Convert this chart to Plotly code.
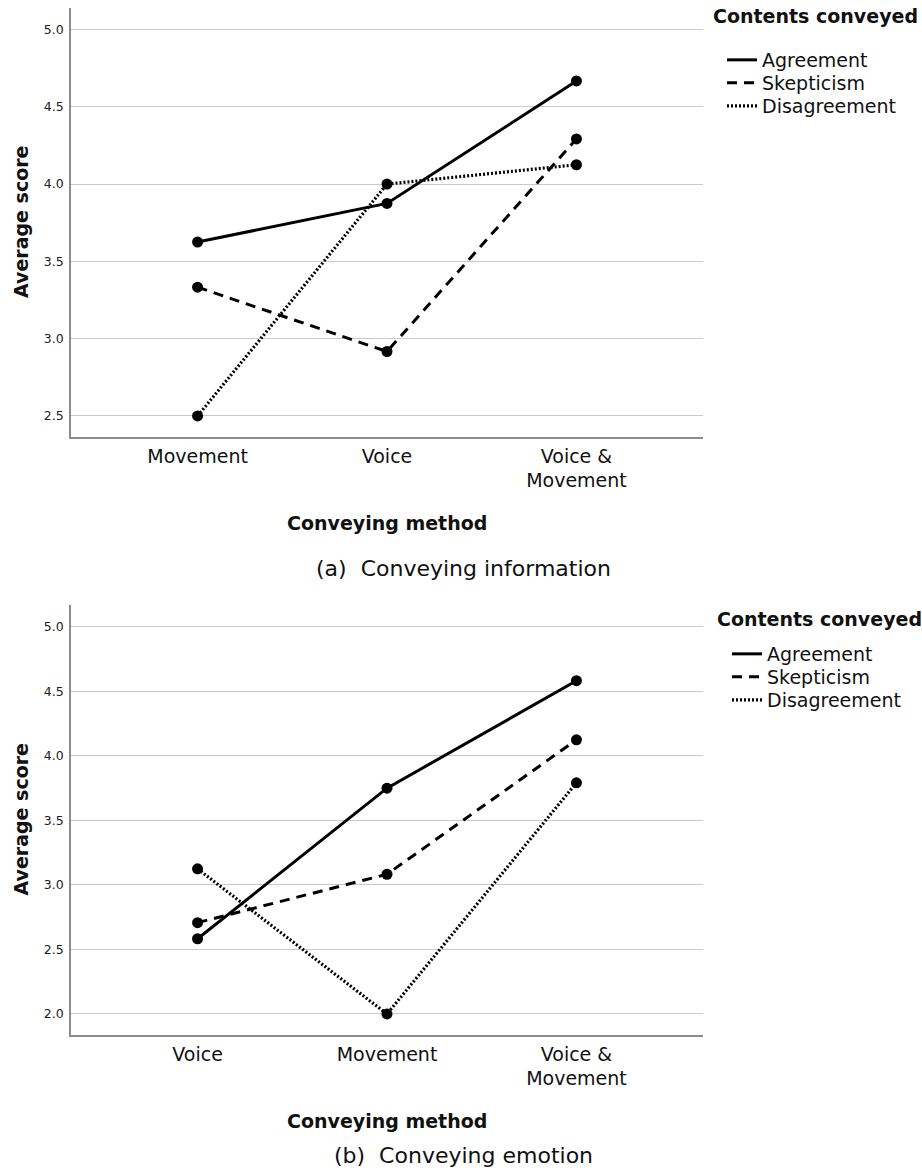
import plotly.graph_objects as go

# ---------------- data ----------------
series_names = ["Agreement", "Skepticism", "Disagreement"]

top_categories = ["Movement", "Voice", "Voice &<br>Movement"]
top_agreement = [3.625, 3.875, 4.667]
top_skepticism = [3.333, 2.917, 4.292]
top_disagreement = [2.5, 4.0, 4.125]

bot_categories = ["Voice", "Movement", "Voice &<br>Movement"]
bot_agreement = [2.583, 3.75, 4.583]
bot_skepticism = [2.708, 3.083, 4.125]
bot_disagreement = [3.125, 2.0, 3.792]

y_ticks_top = [2.5, 3.0, 3.5, 4.0, 4.5, 5.0]
y_ticks_bot = [2.0, 2.5, 3.0, 3.5, 4.0, 4.5, 5.0]

legend_title = "Contents conveyed"
x_title = "Conveying method"
y_title = "Average score"
caption_top = "(a)&nbsp;&nbsp;Conveying information"
caption_bot = "(b)&nbsp;&nbsp;Conveying emotion"

# ---------------- style ----------------
W, H = 922, 1170
L, R = 71, 703
FONT = "DejaVu Sans"
INK = "#111111"
dashes = {"Agreement": "solid", "Skepticism": "10px,7px", "Disagreement": "2px,2px"}
widths = {"Agreement": 3, "Skepticism": 3, "Disagreement": 3.2}


def py(px):
    return 1 - px / H


def pxx(px):
    return (px - L) / (R - L)


top_box = (8, 437)
bot_box = (605, 1035)

fig = go.Figure()

# each legend entry gets its own legend box so the row spacing can match
panels = [
    ("x", "y", top_categories, [top_agreement, top_skepticism, top_disagreement],
     ["legend", "legend2", "legend3"]),
    ("x2", "y2", bot_categories, [bot_agreement, bot_skepticism, bot_disagreement],
     ["legend4", "legend5", "legend6"]),
]

for xa, ya, cats, vals, legs in panels:
    for name, v in zip(series_names, vals):
        fig.add_trace(go.Scatter(
            x=cats, y=v, mode="lines+markers", name=name,
            xaxis=xa, yaxis=ya, showlegend=False,
            line=dict(color="black", width=widths[name], dash=dashes[name]),
            marker=dict(color="black", size=11),
            cliponaxis=False,
        ))
    for name, leg in zip(series_names, legs):
        fig.add_trace(go.Scatter(
            x=[None], y=[None], mode="lines", name=name,
            xaxis=xa, yaxis=ya, legend=leg, showlegend=True,
            line=dict(color="black", width=widths[name], dash=dashes[name]),
        ))

xcommon = dict(
    type="category", range=[-0.668, 2.668], showgrid=False,
    showline=True, linecolor="#8c8c8c", linewidth=1.6,
    ticks="", ticklabelstandoff=1,
    tickfont=dict(family=FONT, size=19, color=INK), fixedrange=True,
)
ycommon = dict(
    showgrid=True, gridcolor="#cacaca", gridwidth=1.2,
    showline=True, linecolor="#8c8c8c", linewidth=1.6, zeroline=False,
    ticks="", ticklabelstandoff=3, tickformat=".1f",
    tickfont=dict(family=FONT, size=12.5, color="#222222"),
)


def leg(xpx, ypx):
    return dict(x=pxx(xpx), xanchor="left", y=py(ypx), yanchor="middle",
                font=dict(family=FONT, size=19, color=INK),
                bgcolor="rgba(0,0,0,0)", itemwidth=30, borderwidth=0)


fig.update_layout(
    width=W, height=H,
    margin=dict(l=L, r=W - R, t=0, b=0),
    paper_bgcolor="white", plot_bgcolor="white",
    font=dict(family=FONT, color=INK),
    xaxis=dict(xcommon, domain=[0, 1], anchor="y",
               categoryorder="array", categoryarray=top_categories),
    yaxis=dict(ycommon, domain=[py(top_box[1]), py(top_box[0])], anchor="x",
               range=[2.364, 5.139], tickvals=y_ticks_top),
    xaxis2=dict(xcommon, domain=[0, 1], anchor="y2",
                categoryorder="array", categoryarray=bot_categories),
    yaxis2=dict(ycommon, domain=[py(bot_box[1]), py(bot_box[0])], anchor="x2",
                range=[1.837, 5.17], tickvals=y_ticks_bot),
    legend=leg(722, 60), legend2=leg(722, 83), legend3=leg(722, 106),
    legend4=leg(727, 654), legend5=leg(727, 677), legend6=leg(727, 700),
)

annotations = []
for (t0, t1), lx, ltitle_y in [(top_box, 711, 16), (bot_box, 715, 619)]:
    annotations.append(dict(
        text="<b>" + y_title + "</b>", xref="paper", yref="paper",
        x=pxx(20.5), y=py((t0 + t1) / 2), textangle=-90, showarrow=False,
        xanchor="center", yanchor="middle",
        font=dict(family=FONT, size=19, color=INK)))
    annotations.append(dict(
        text="<b>" + x_title + "</b>", xref="paper", yref="paper",
        x=pxx((L + R) / 2), y=py(t1 + 86), showarrow=False,
        xanchor="center", yanchor="middle",
        font=dict(family=FONT, size=19, color=INK)))
    annotations.append(dict(
        text="<b>" + legend_title + "</b>", xref="paper", yref="paper",
        x=pxx(lx), y=py(ltitle_y), showarrow=False,
        xanchor="left", yanchor="middle",
        font=dict(family=FONT, size=19, color=INK)))

annotations.append(dict(
    text=caption_top, xref="paper", yref="paper",
    x=pxx(463), y=py(top_box[1] + 131), showarrow=False,
    xanchor="center", yanchor="middle",
    font=dict(family=FONT, size=22, color=INK)))
annotations.append(dict(
    text=caption_bot, xref="paper", yref="paper",
    x=pxx(463), y=py(1155), showarrow=False,
    xanchor="center", yanchor="middle",
    font=dict(family=FONT, size=22, color=INK)))

fig.update_layout(annotations=annotations)

fig.write_html("out.html")
